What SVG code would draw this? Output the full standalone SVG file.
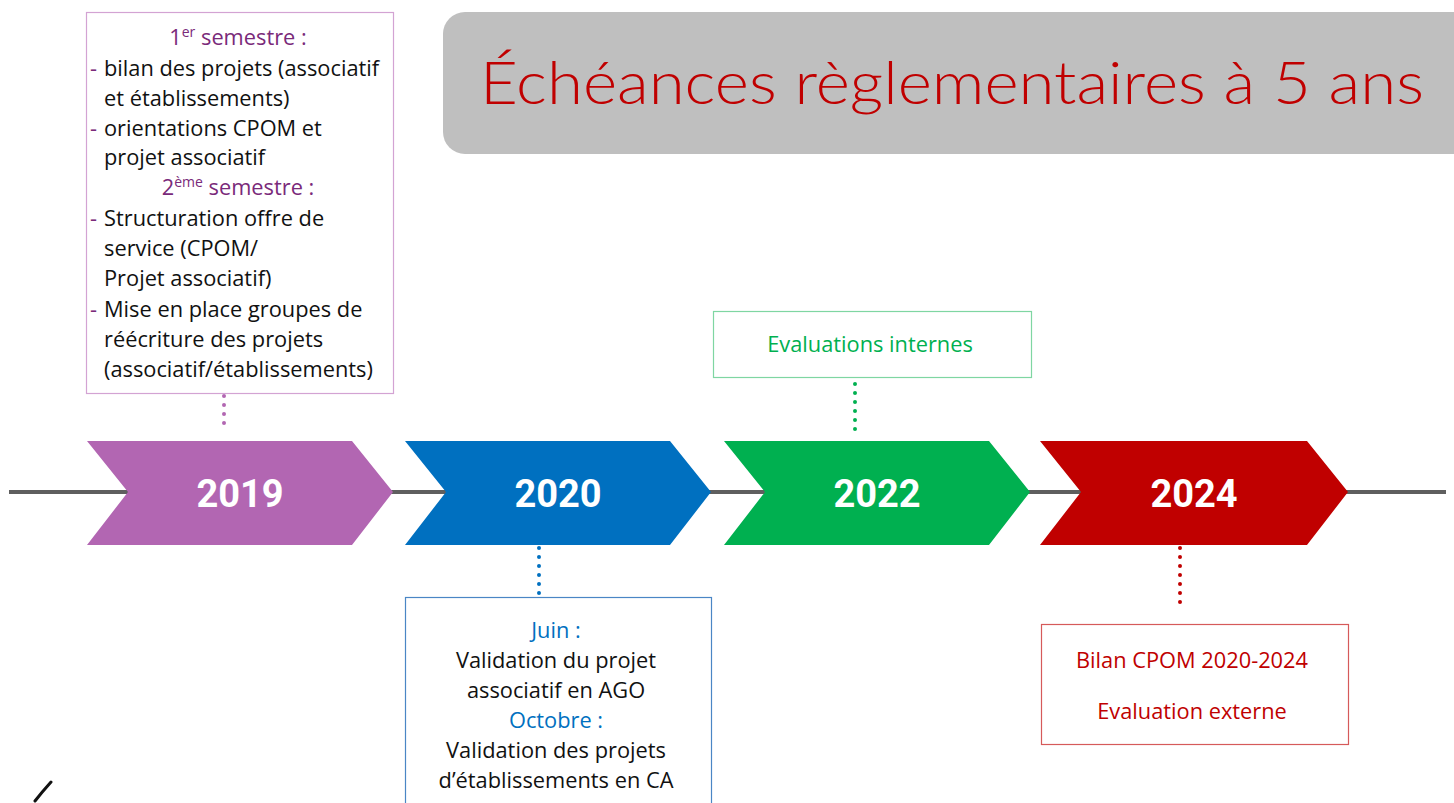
<svg xmlns="http://www.w3.org/2000/svg" width="1454" height="803" viewBox="0 0 1454 803">
<style>
.t{font-family:"Open Sans",Lato,"Liberation Sans",sans-serif;font-size:21.8px;fill:#111}
.c{text-anchor:middle}
.yr{font-family:Roboto,"Liberation Sans",sans-serif;font-weight:bold;font-size:38px;fill:#fff;text-anchor:middle}
.pu{fill:#7A2A7A}
.bl{fill:#0070C0}
.dot{fill:none;stroke-width:4;stroke-linecap:round;stroke-dasharray:0 9}
</style>
<rect width="1454" height="803" fill="#fff"/>
<g id="title">
<rect x="443" y="12" width="1040" height="142" rx="22" fill="#BFBFBF"/>
<text x="480" y="104" font-family="Lato,'Open Sans',sans-serif" font-weight="300" font-size="60" fill="#C00000" textLength="944" lengthAdjust="spacingAndGlyphs">Échéances règlementaires à 5 ans</text>
</g>
<g id="timeline">
<line x1="9" y1="492" x2="1446" y2="492" stroke="#5F5F5F" stroke-width="4"/>
</g>
<g id="connectors">
<line class="dot" x1="224" y1="396" x2="224" y2="432" stroke="#B266B2"/>
<line class="dot" x1="539" y1="548" x2="539" y2="594" stroke="#0070C0"/>
<line class="dot" x1="855" y1="384" x2="855" y2="438" stroke="#00B050"/>
<line class="dot" x1="1180" y1="548" x2="1180" y2="608" stroke="#C00000"/>
</g>
<g id="y2019">
<polygon points="87,441 352,441 393,492 352,545 87,545 128,492" fill="#B266B2"/>
<text class="yr" x="240" y="507">2019</text>
</g>
<g id="y2020">
<polygon points="405,441 670,441 711,492 670,545 405,545 446,492" fill="#0070C0"/>
<text class="yr" x="558" y="507">2020</text>
</g>
<g id="y2022">
<polygon points="724,441 989,441 1030,492 989,545 724,545 765,492" fill="#00B050"/>
<text class="yr" x="877" y="507">2022</text>
</g>
<g id="y2024">
<polygon points="1040,441 1307,441 1348,492 1307,545 1040,545 1081,492" fill="#C00000"/>
<text class="yr" x="1194" y="507">2024</text>
</g>
<g id="box2019">
<rect x="86.5" y="12.5" width="307" height="381" fill="#fff" stroke="#D3A3D3" stroke-width="1.2"/>
<text class="t c pu" x="238" y="45">1<tspan font-size="14" dy="-8">er</tspan><tspan dy="8"> semestre :</tspan></text>
<text class="t pu" x="90" y="76">-</text>
<text class="t" x="104" y="76">bilan des projets (associatif</text>
<text class="t" x="104" y="106">et établissements)</text>
<text class="t pu" x="90" y="136">-</text>
<text class="t" x="104" y="136">orientations CPOM et</text>
<text class="t" x="104" y="165">projet associatif</text>
<text class="t c pu" x="238" y="195">2<tspan font-size="14" dy="-8">ème</tspan><tspan dy="8"> semestre :</tspan></text>
<text class="t pu" x="90" y="226">-</text>
<text class="t" x="104" y="226">Structuration offre de</text>
<text class="t" x="104" y="256">service (CPOM/</text>
<text class="t" x="104" y="286">Projet associatif)</text>
<text class="t pu" x="90" y="317">-</text>
<text class="t" x="104" y="317">Mise en place groupes de</text>
<text class="t" x="104" y="347">réécriture des projets</text>
<text class="t" x="104" y="377">(associatif/établissements)</text>
</g>
<g id="box2020">
<rect x="405.5" y="597.5" width="306" height="220" fill="#fff" stroke="#4A86C5" stroke-width="1.2"/>
<text class="t c bl" x="556" y="638">Juin :</text>
<text class="t c" x="556" y="668">Validation du projet</text>
<text class="t c" x="556" y="698">associatif en AGO</text>
<text class="t c bl" x="556" y="728">Octobre :</text>
<text class="t c" x="556" y="758">Validation des projets</text>
<text class="t c" x="556" y="788">d’établissements en CA</text>
</g>
<g id="box2022">
<rect x="713.5" y="311.5" width="318" height="66" fill="#fff" stroke="#7FD6A2" stroke-width="1.2"/>
<text class="t c" x="870" y="352" style="fill:#00B050">Evaluations internes</text>
</g>
<g id="box2024">
<rect x="1041.5" y="624.5" width="307" height="120" fill="#fff" stroke="#D65A5A" stroke-width="1.2"/>
<text class="t c" x="1192" y="668" style="fill:#C00000">Bilan CPOM 2020-2024</text>
<text class="t c" x="1192" y="719" style="fill:#C00000">Evaluation externe</text>
</g>
<g id="mark">
<path d="M35,801 Q42,792 51,782" fill="none" stroke="#111" stroke-width="3" stroke-linecap="round"/>
</g>
</svg>
